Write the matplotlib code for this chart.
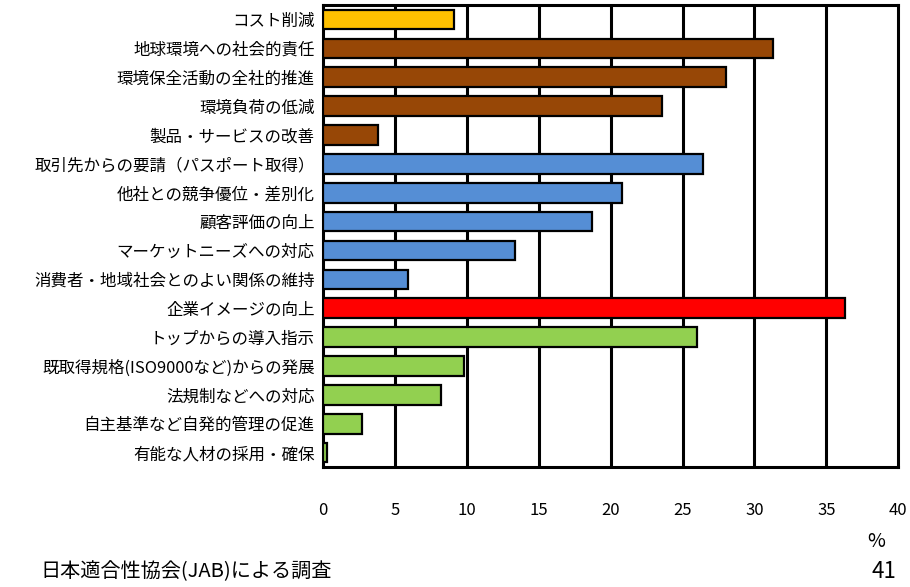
import matplotlib
matplotlib.use("Agg")
import matplotlib.pyplot as plt

plt.rcParams['font.family'] = ['Noto Sans CJK JP', 'DejaVu Sans']

# categories, top to bottom
labels = ['コスト削減', '地球環境への社会的責任', '環境保全活動の全社的推進', '環境負荷の低減',
          '製品・サービスの改善', '取引先からの要請（パスポート取得）', '他社との競争優位・差別化',
          '顧客評価の向上', 'マーケットニーズへの対応', '消費者・地域社会とのよい関係の維持',
          '企業イメージの向上', 'トップからの導入指示', '既取得規格(ISO9000など)からの発展',
          '法規制などへの対応', '自主基準など自発的管理の促進', '有能な人材の採用・確保']
values = [9.1, 31.3, 28.0, 23.6, 3.8, 26.45, 20.8, 18.7, 13.35, 5.9,
          36.3, 26.0, 9.8, 8.2, 2.7, 0.25]
groups = ['cost', 'env', 'env', 'env', 'env', 'mkt', 'mkt', 'mkt', 'mkt', 'mkt',
          'image', 'mgmt', 'mgmt', 'mgmt', 'mgmt', 'mgmt']
group_colors = {'cost': '#FFC000', 'env': '#974706', 'mkt': '#558ED5',
                'image': '#FF0000', 'mgmt': '#92D050'}
xticks = [0, 5, 10, 15, 20, 25, 30, 35, 40]

fig = plt.figure(figsize=(9.1, 5.87), dpi=100)
ax = fig.add_axes([0.355, 0.2044, 0.632, 0.787])

n = len(labels)
ypos = list(range(n))
ax.barh(ypos, values, height=0.68, color=[group_colors[g] for g in groups],
        edgecolor='black', linewidth=1.6, zorder=3)

ax.set_xlim(0, 40)
ax.set_ylim(n - 0.5, -0.5)
ax.set_xticks(xticks)
ax.set_xticklabels([str(t) for t in xticks], fontsize=12)
ax.tick_params(axis='x', length=0, pad=25)
ax.set_yticks(ypos)
ax.set_yticklabels(labels, fontsize=11.9)
ax.tick_params(axis='y', length=0, pad=6)

# black vertical gridlines
for t in xticks[1:-1]:
    ax.axvline(t, color='black', linewidth=2.2, zorder=2)
for s in ax.spines.values():
    s.set_color('black')
    s.set_linewidth(2.2)

fig.text(0.963, 0.077, '%', fontsize=14, ha='center', va='center')
fig.text(0.044, 0.026, '日本適合性協会(JAB)による調査', fontsize=14.5, ha='left', va='center')
fig.text(0.985, 0.026, '41', fontsize=16, ha='right', va='center')

fig.savefig('out.png', dpi=100)
